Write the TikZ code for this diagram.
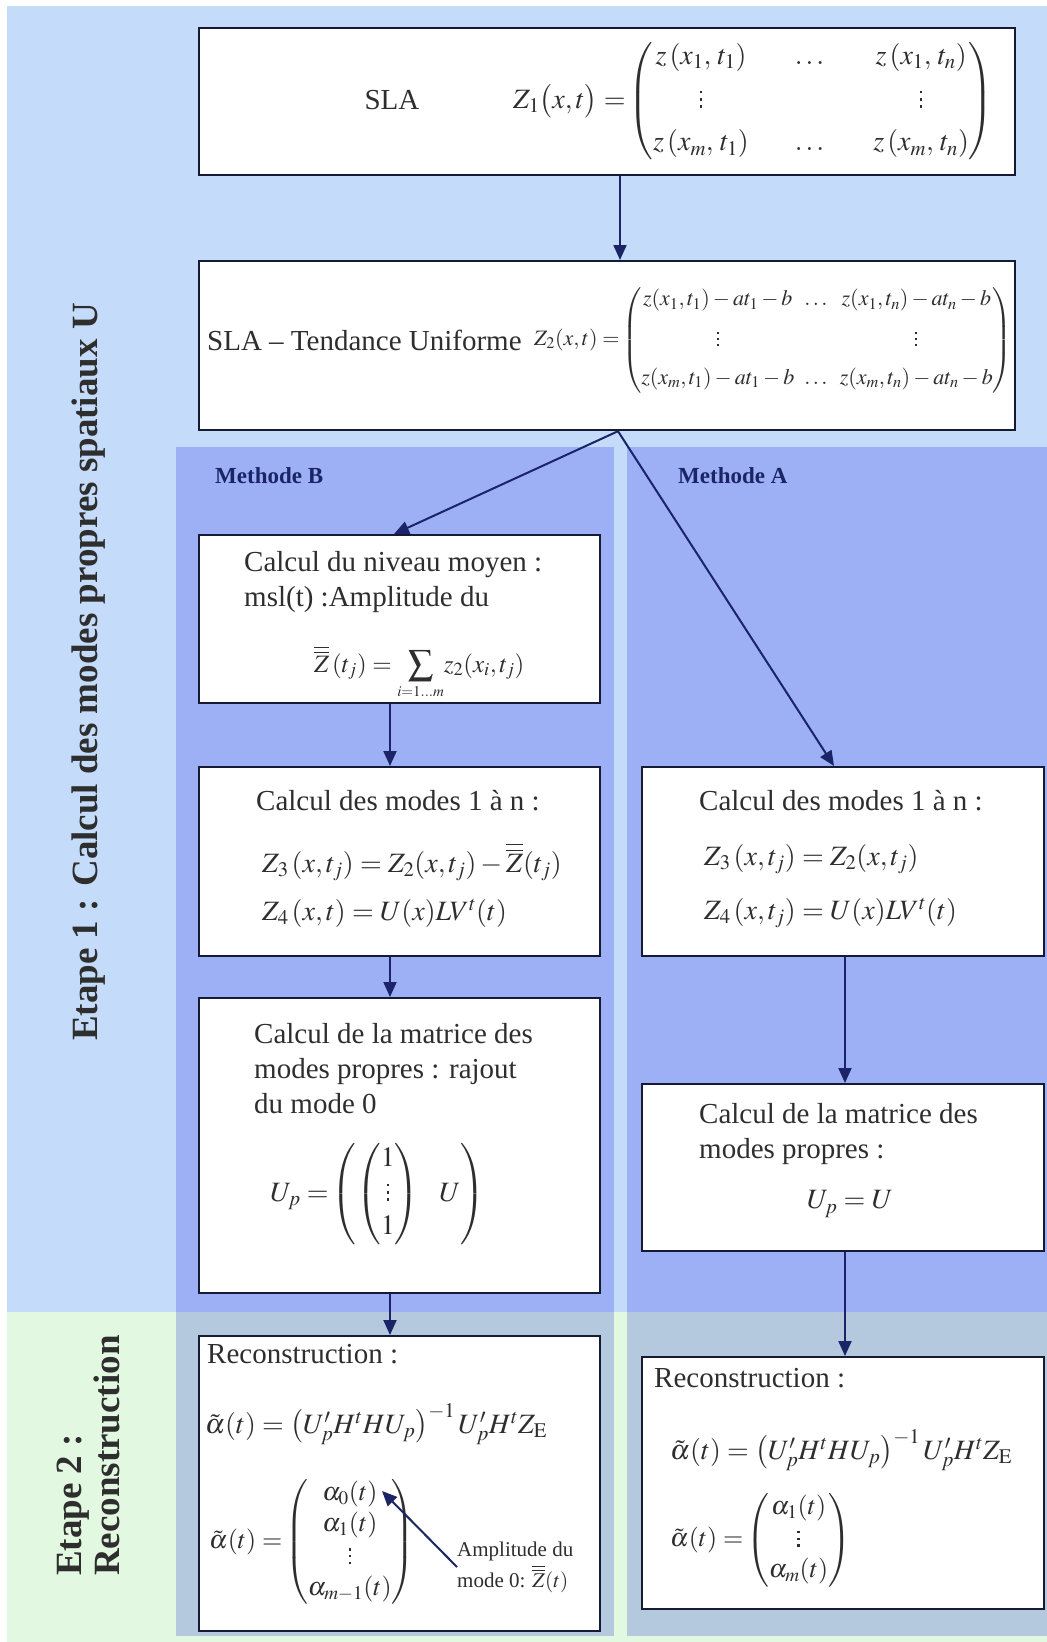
\documentclass[tikz,border=0pt]{standalone}
\usepackage{amsmath}
\usepackage{mathptmx}
\usepackage{fontspec}
\setmainfont{Liberation Serif}
\usetikzlibrary{arrows.meta}
\definecolor{etapeone}{HTML}{C4DCFA}
\definecolor{etapetwo}{HTML}{E2F8E0}
\definecolor{panelblue}{HTML}{9DB0F6}
\definecolor{panelgray}{HTML}{B4C8DE}
\definecolor{navy}{HTML}{1B2466}
\definecolor{boxline}{HTML}{151A35}
\definecolor{txtc}{HTML}{2E2E2E}
\newcommand{\vdt}{\vbox{\kern0.25em\hbox{\rule{0.09em}{0.09em}}\kern0.17em\hbox{\rule{0.09em}{0.09em}}\kern0.17em\hbox{\rule{0.09em}{0.09em}}}}
\newcommand{\zbb}{\overline{\overline{Z}}}
\begin{document}
\begin{tikzpicture}[x=1pt,y=-1pt,
  box/.style={draw=boxline,line width=2.2pt,fill=white,inner sep=0pt,anchor=north west},
  txt/.style={text=txtc,font=\fontsize{29}{35}\selectfont,inner sep=0pt,align=left},
  mth/.style={text=txtc,font=\fontsize{28}{34}\selectfont,inner sep=0pt},
  mthmid/.style={text=txtc,font=\fontsize{26}{30}\selectfont,inner sep=0pt},
  mthsum/.style={text=txtc,font=\fontsize{25}{30}\selectfont,inner sep=0pt},
  mthsmall/.style={text=txtc,font=\fontsize{22}{26}\selectfont,inner sep=0pt},
  ann/.style={text=txtc,font=\fontsize{21}{31}\selectfont,inner sep=0pt,align=left},
  lbl/.style={text=navy,font=\bfseries\fontsize{23}{27}\selectfont,inner sep=0pt},
  etp/.style={text=txtc,font=\bfseries\fontsize{37}{38}\selectfont,inner sep=0pt,rotate=90,align=left},
  conn/.style={draw=navy,line width=2pt,-{Triangle[length=15pt,width=13pt]}},
]
\useasboundingbox (0,0) rectangle (1047,1642);
\fill[white] (0,0) rectangle (1047,1642);
% backgrounds
\fill[etapeone] (7,6) rectangle (1047,1312);
\fill[etapetwo] (7,1312) rectangle (1047,1642);
\fill[panelblue] (176,447) rectangle (614,1312);
\fill[panelgray] (176,1312) rectangle (614,1636);
\fill[panelblue] (627,447) rectangle (1047,1312);
\fill[panelgray] (627,1312) rectangle (1047,1636);

% stage labels
\node[etp,anchor=center] (e1) at (89,672) {Etape 1 : Calcul des modes propres spatiaux U};
\node[etp,anchor=west] (e2) at (88,1576) {Etape 2 :\\Reconstruction};
\node[lbl,anchor=west] (mB) at (215,476) {Methode B};
\node[lbl,anchor=west] (mA) at (678,476) {Methode A};

% boxes
\node[box,minimum width=816pt,minimum height=147pt] (box1) at (198,27) {};
\node[box,minimum width=816pt,minimum height=169pt] (box2) at (198,260) {};
\node[box,minimum width=401pt,minimum height=168pt] (b1) at (198,534) {};
\node[box,minimum width=401pt,minimum height=189pt] (b2) at (198,766) {};
\node[box,minimum width=401pt,minimum height=295pt] (b3) at (198,997) {};
\node[box,minimum width=401pt,minimum height=295pt] (b4) at (198,1335) {};
\node[box,minimum width=402pt,minimum height=189pt] (a2) at (641,766) {};
\node[box,minimum width=402pt,minimum height=167pt] (a3) at (641,1083) {};
\node[box,minimum width=402pt,minimum height=252pt] (a4) at (641,1356) {};

% box 1
\node[txt,anchor=center] (sla) at (392,100) {SLA};
\node[mth,anchor=west] (z1) at (513,101) {\setlength{\arraycolsep}{23pt}$Z_1\bigl(x,t\bigr)=\!\begin{pmatrix} z\left(x_1,\,t_1\right) & \dots & z\left(x_1,\,t_n\right)\\[9pt] \vdt & & \vdt\\[9pt] z\left(x_m,\,t_1\right) & \dots & z\left(x_m,\,t_n\right)\end{pmatrix}$};

% box 2
\node[txt,anchor=west] (sla2) at (207,340) {SLA – Tendance Uniforme};
\node[mthsmall,anchor=west] (z2) at (534,340) {\setlength{\arraycolsep}{5pt}$Z_2(x,t)=\!\begin{pmatrix} z(x_1,t_1)-at_1-b & \dots & z(x_1,t_n)-at_n-b\\[13pt] \vdt & & \vdt \\[13pt] z(x_m,t_1)-at_1-b & \dots & z(x_m,t_n)-at_n-b\end{pmatrix}$};

% B1
\node[txt,anchor=west] (b1t) at (244,582) {Calcul du niveau moyen :\\msl(t) :Amplitude du};
\node[mthsum,anchor=base west] (b1m) at (314,672) {$\zbb\left(t_j\right)=\displaystyle\sum\limits_{\scriptscriptstyle i=1\ldots m}\! z_2(x_i,t_j)$};

% B2
\node[txt,anchor=west] (b2t) at (256,801) {Calcul des modes 1 à n :};
\node[mth,anchor=west] (b2m1) at (262,862) {$Z_3\left(x,t_j\right)=Z_2(x,t_j)-\zbb(t_j)$};
\node[mth,anchor=west] (b2m2) at (262,913) {$Z_4\left(x,t\right)=U(x)LV^t(t)$};

% B3
\node[txt,anchor=west] (b3t) at (254,1069) {Calcul de la matrice des\\modes propres : rajout\\du mode 0};
\node[mth,anchor=west] (b3m) at (270,1194) {$U_p=\!\begin{pmatrix}\begin{pmatrix}1\\ \vdt\\ 1\end{pmatrix} & \hspace{10pt}U\end{pmatrix}$};

% B4
\node[txt,anchor=west] (b4t) at (207,1354) {Reconstruction :};
\node[mth,anchor=west] (b4m1) at (205,1424) {$\tilde{\alpha}(t)=\left(U'_pH^tHU_p\right)^{-1}U'_pH^tZ_{\mathrm{E}}$};
\node[mthmid,anchor=west] (b4m2) at (209,1542) {$\tilde{\alpha}(t)=\!\begin{pmatrix}\alpha_0(t)\\[1pt] \alpha_1(t)\\[1pt] \vdt\\[1pt] \alpha_{m-1}(t)\end{pmatrix}$};
\node[ann,anchor=west] (b4a) at (457,1567) {Amplitude du\\mode 0: $\zbb(t)$};
\coordinate (a0tip) at (382,1491);
\draw[conn] (b4a.west) -- (a0tip);

% A2
\node[txt,anchor=west] (a2t) at (699,801) {Calcul des modes 1 à n :};
\node[mth,anchor=west] (a2m1) at (704,859) {$Z_3\left(x,t_j\right)=Z_2(x,t_j)$};
\node[mth,anchor=west] (a2m2) at (704,913) {$Z_4\left(x,t_j\right)=U(x)LV^t(t)$};

% A3
\node[txt,anchor=west] (a3t) at (699,1134) {Calcul de la matrice des\\modes propres :};
\node[mth,anchor=center] (a3m) at (850,1204) {$U_p=U$};

% A4
\node[txt,anchor=west] (a4t) at (654,1378) {Reconstruction :};
\node[mth,anchor=west] (a4m1) at (670,1450) {$\tilde{\alpha}(t)=\left(U'_pH^tHU_p\right)^{-1}U'_pH^tZ_{\mathrm{E}}$};
\node[mthmid,anchor=west] (a4m2) at (670,1540) {$\tilde{\alpha}(t)=\!\begin{pmatrix}\alpha_1(t)\\[1pt] \vdt\\[1pt] \alpha_m(t)\end{pmatrix}$};

% connectors
\coordinate (xtop) at (620,0);
\coordinate (xsrc) at (618,0);
\coordinate (xB1) at (394,0);
\coordinate (xA1) at (834,0);
\coordinate (xB) at (390,0);
\coordinate (xA) at (845,0);
\draw[conn] (box1.south -| xtop) -- (box2.north -| xtop);
\draw[conn] (box2.south -| xsrc) -- (b1.north -| xB1);
\draw[conn] (box2.south -| xsrc) -- (a2.north -| xA1);
\draw[conn] (b1.south -| xB) -- (b2.north -| xB);
\draw[conn] (b2.south -| xB) -- (b3.north -| xB);
\draw[conn] (b3.south -| xB) -- (b4.north -| xB);
\draw[conn] (a2.south -| xA) -- (a3.north -| xA);
\draw[conn] (a3.south -| xA) -- (a4.north -| xA);
\end{tikzpicture}
\end{document}
